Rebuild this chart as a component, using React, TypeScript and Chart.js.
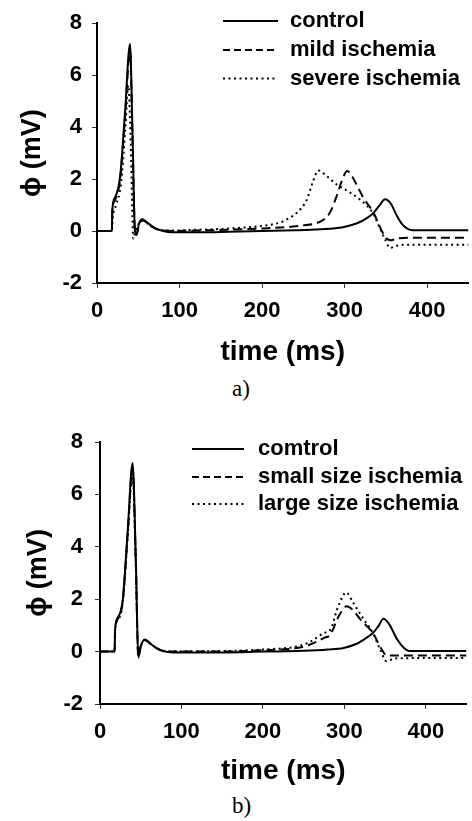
import React, { useEffect, useRef } from "react";
import { Chart, registerables } from "chart.js";

Chart.register(...registerables);

// ---------- data ----------
const xTicks = [0, 100, 200, 300, 400];
const yTicks = [-2, 0, 2, 4, 6, 8];

const labelsA = ["control", "mild ischemia", "severe ischemia"];
const labelsB = ["comtrol", "small size ischemia", "large size ischemia"];

// panel a) control
const aCtrlT = [0, 18, 18.5, 22, 28, 34, 40, 43, 46, 48, 51, 55, 60, 66, 72, 80, 90, 120, 160, 200, 240, 270, 298, 315, 325, 335, 342, 349, 356, 363, 370, 377, 382, 450];
const aCtrlV = [0, 0, 0.8, 1.3, 2.1, 4.6, 7.2, 3.8, 0.0, -0.1, 0.3, 0.45, 0.35, 0.2, 0.08, 0.0, -0.05, -0.05, -0.03, 0.0, 0.03, 0.07, 0.15, 0.3, 0.46, 0.7, 0.98, 1.22, 1.05, 0.6, 0.25, 0.07, 0.03, 0.03];
// panel a) mild ischemia
const aMildT = [0, 18, 18.5, 22, 28, 34, 40, 43, 46, 48, 51, 55, 60, 66, 72, 80, 90, 120, 160, 200, 230, 250, 262, 274, 282, 290, 296, 303, 309, 315, 323, 335, 345, 351, 356, 365, 380, 450];
const aMildV = [0, 0, 0.7, 1.2, 2.0, 4.4, 6.9, 3.6, -0.05, -0.15, 0.25, 0.42, 0.33, 0.18, 0.08, 0.02, 0.0, 0.02, 0.05, 0.1, 0.15, 0.22, 0.27, 0.43, 0.7, 1.32, 1.88, 2.31, 2.1, 1.75, 1.26, 0.7, 0.0, -0.3, -0.35, -0.28, -0.26, -0.26];
// panel a) severe ischemia
const aSevT = [0, 18, 19, 23, 29, 34, 38, 41, 44, 47, 51, 55, 60, 66, 72, 80, 90, 120, 150, 180, 200, 222, 233, 242, 254, 262, 268, 278, 290, 302, 319, 334, 343, 349, 355, 362, 375, 450];
const aSevV = [0, 0, 0.5, 1.0, 1.8, 3.8, 5.6, 3.2, -0.3, 0.05, 0.3, 0.4, 0.32, 0.18, 0.08, 0.03, 0.02, 0.05, 0.08, 0.14, 0.2, 0.33, 0.5, 0.7, 1.2, 1.94, 2.33, 2.12, 1.8, 1.57, 1.2, 0.7, 0.09, -0.33, -0.65, -0.57, -0.53, -0.53];

// panel b) control
const bCtrlT = [0, 18, 18.5, 22, 28, 34, 40, 44, 47, 50, 55, 62, 70, 77, 90, 150, 200, 250, 280, 299, 313, 324, 335, 342, 348, 355, 365, 373, 381, 450];
const bCtrlV = [0, 0, 0.84, 1.3, 2.0, 4.6, 7.2, 3.5, -0.23, 0.2, 0.46, 0.3, 0.12, 0.02, -0.03, -0.03, 0.0, 0.03, 0.08, 0.14, 0.27, 0.46, 0.71, 0.98, 1.25, 1.05, 0.46, 0.15, 0.02, 0.02];
// panel b) small size ischemia
const bSmallT = [0, 18, 18.5, 22, 28, 34, 40, 44, 47, 50, 55, 62, 70, 77, 90, 150, 200, 242, 258, 275, 283, 291, 297, 303, 310, 320, 335, 346, 352, 360, 450];
const bSmallV = [0, 0, 0.8, 1.25, 1.95, 4.5, 7.0, 3.4, -0.2, 0.2, 0.44, 0.3, 0.12, 0.03, 0.0, 0.0, 0.05, 0.14, 0.27, 0.52, 0.65, 1.22, 1.55, 1.73, 1.6, 1.22, 0.71, 0.08, -0.15, -0.15, -0.15];
// panel b) large size ischemia
const bLargeT = [0, 18, 18.5, 22, 28, 34, 40, 44, 47, 50, 55, 62, 70, 77, 90, 150, 200, 242, 258, 275, 283, 291, 297, 302, 311, 324, 335, 344, 352, 362, 450];
const bLargeV = [0, 0, 0.8, 1.2, 1.9, 4.4, 6.8, 3.3, -0.2, 0.2, 0.43, 0.3, 0.12, 0.03, 0.01, 0.02, 0.08, 0.2, 0.37, 0.71, 0.84, 1.6, 2.05, 2.26, 1.86, 1.22, 0.71, 0.08, -0.37, -0.26, -0.24];

// ---------- styling ----------
const SANS = '"Liberation Sans", Arial, Helvetica, sans-serif';
const curveDash = [[], [9, 5], [2, 3.5]];
const legendDash = [[], [7, 4], [2, 3.5]];

type PanelSpec = {
  top: number;
  height: number;
  padT: number;
  padR: number;
  yAxisW: number;
  xAxisH: number;
  yTitlePad: number;
  yTickPad: number;
  xTickPad: number;
  xTitlePadB: number;
  lx0: number;
  lx1: number;
  tx: number;
  rows: number[];
  labels: string[];
  series: [number[], number[]][];
};

const pts = (t: number[], v: number[]) => t.map((x, i) => ({ x, y: v[i] }));

function makeLegendPlugin(spec: PanelSpec) {
  return {
    id: "customLegend",
    afterDraw(chart: any) {
      const ctx = chart.ctx as CanvasRenderingContext2D;
      ctx.save();
      chart.data.datasets.forEach((ds: any, i: number) => {
        const y = spec.rows[i];
        ctx.beginPath();
        ctx.setLineDash(legendDash[i]);
        ctx.lineWidth = 2;
        ctx.strokeStyle = "#000";
        ctx.moveTo(spec.lx0, y);
        ctx.lineTo(spec.lx1, y);
        ctx.stroke();
        ctx.setLineDash([]);
        ctx.font = `bold 22px ${SANS}`;
        ctx.fillStyle = "#000";
        ctx.textBaseline = "middle";
        ctx.textAlign = "left";
        ctx.fillText(ds.label, spec.tx, y);
      });
      ctx.restore();
    },
  };
}

function Panel({ spec }: { spec: PanelSpec }) {
  const ref = useRef<HTMLCanvasElement | null>(null);
  useEffect(() => {
    if (!ref.current) return;
    const chart = new Chart(ref.current, {
      type: "line",
      data: {
        datasets: spec.series.map(([t, v], i) => ({
          label: spec.labels[i],
          data: pts(t, v),
          borderColor: "#000",
          borderWidth: 2,
          borderDash: curveDash[i],
          pointRadius: 0,
          fill: false,
          cubicInterpolationMode: "monotone" as const,
        })),
      },
      options: {
        animation: false,
        responsive: true,
        maintainAspectRatio: false,
        parsing: false as any,
        layout: { padding: { left: 0, right: spec.padR, top: spec.padT, bottom: 0 } },
        plugins: { legend: { display: false }, tooltip: { enabled: false } },
        scales: {
          x: {
            type: "linear",
            min: 0,
            max: 450,
            afterBuildTicks: (s: any) => {
              s.ticks = xTicks.map((value) => ({ value }));
            },
            afterFit: (s: any) => {
              s.height = spec.xAxisH;
            },
            grid: { display: true, drawOnChartArea: false, drawTicks: true, tickLength: 5, color: "#333", lineWidth: 1 },
            border: { display: true, color: "#000", width: 2 },
            ticks: { padding: spec.xTickPad, color: "#000", font: { family: SANS, size: 22, weight: "bold" }, maxRotation: 0 },
            title: {
              display: true,
              text: "time (ms)",
              color: "#000",
              font: { family: SANS, size: 28, weight: "bold" },
              padding: { top: 0, bottom: spec.xTitlePadB },
            },
          },
          y: {
            type: "linear",
            min: -2,
            max: 8,
            afterBuildTicks: (s: any) => {
              s.ticks = yTicks.map((value) => ({ value }));
            },
            afterFit: (s: any) => {
              s.width = spec.yAxisW;
            },
            grid: { display: true, drawOnChartArea: false, drawTicks: true, tickLength: 5, color: "#333", lineWidth: 1 },
            border: { display: true, color: "#000", width: 2 },
            ticks: { padding: spec.yTickPad, color: "#000", font: { family: SANS, size: 22, weight: "bold" } },
            title: {
              display: true,
              text: "ϕ (mV)",
              color: "#000",
              font: { family: SANS, size: 27, weight: "bold" },
              padding: { top: spec.yTitlePad, bottom: 0 },
            },
          },
        },
      } as any,
      plugins: [makeLegendPlugin(spec)],
    });
    return () => chart.destroy();
  }, [spec]);
  return (
    <div style={{ position: "absolute", left: 0, top: spec.top, width: 472, height: spec.height }}>
      <canvas ref={ref} />
    </div>
  );
}

const specA: PanelSpec = {
  top: 0,
  height: 372,
  padT: 13,
  padR: 3.5,
  yAxisW: 97,
  xAxisH: 89,
  yTitlePad: 16,
  yTickPad: 10,
  xTickPad: 10,
  xTitlePadB: 3,
  lx0: 223,
  lx1: 278,
  tx: 290,
  rows: [21, 50, 78.5],
  labels: labelsA,
  series: [
    [aCtrlT, aCtrlV],
    [aMildT, aMildV],
    [aSevT, aSevV],
  ],
};

const specB: PanelSpec = {
  top: 400,
  height: 391,
  padT: 42,
  padR: 5.5,
  yAxisW: 100,
  xAxisH: 87,
  yTitlePad: 22,
  yTickPad: 12,
  xTickPad: 10,
  xTitlePadB: 3,
  lx0: 192,
  lx1: 244,
  tx: 258,
  rows: [49, 77, 104],
  labels: labelsB,
  series: [
    [bCtrlT, bCtrlV],
    [bSmallT, bSmallV],
    [bLargeT, bLargeV],
  ],
};

const captionStyle: React.CSSProperties = {
  position: "absolute",
  left: 232,
  fontFamily: '"Liberation Serif", "Times New Roman", serif',
  fontSize: 23,
  lineHeight: "23px",
  color: "#000",
  whiteSpace: "nowrap",
};

export default function App() {
  return (
    <div style={{ position: "absolute", left: 0, top: 0, width: 472, height: 821, background: "#fff", overflow: "hidden" }}>
      <Panel spec={specA} />
      <div style={{ ...captionStyle, top: 377 }}>a)</div>
      <Panel spec={specB} />
      <div style={{ ...captionStyle, top: 794 }}>b)</div>
    </div>
  );
}
